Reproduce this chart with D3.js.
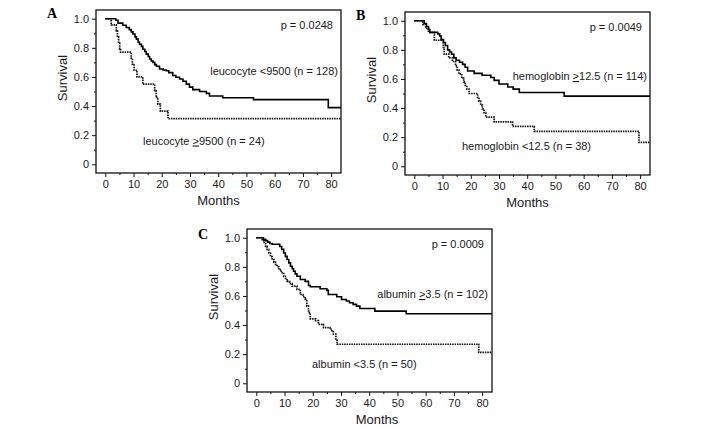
<!DOCTYPE html>
<html><head><meta charset="utf-8">
<script src="https://cdn.jsdelivr.net/npm/d3@7"></script>
<style>
html,body{margin:0;padding:0;background:#fff;}
svg{display:block;}
text{font-family:Arial,"Liberation Sans",sans-serif;fill:#1a1a1a;}
text.letter{font-family:"Times New Roman","Liberation Serif",serif;font-weight:bold;fill:#000;}
</style></head><body>
<svg id="chart" width="708" height="427"></svg>
<script>
// ---------- data ----------
const monthTicks = [0, 10, 20, 30, 40, 50, 60, 70, 80];
const monthMinorTicks = [5, 15, 25, 35, 45, 55, 65, 75];
const survivalTicks = [0, 0.2, 0.4, 0.6, 0.8, 1.0];
const survivalTickLabels = ["0", "0.2", "0.4", "0.6", "0.8", "1.0"];
const survivalMinorTicks = [0.1, 0.3, 0.5, 0.7, 0.9];

// Panel A: leucocyte
const leucoLow = [[0,1],[3.7,0.99],[4.5,0.97],[6.2,0.955],[7.4,0.94],[8.5,0.925],[9.2,0.91],[9.8,0.895],[10.5,0.875],[11,0.86],[11.6,0.84],[12.1,0.825],[12.8,0.81],[13.3,0.79],[14,0.775],[14.5,0.757],[15.2,0.74],[15.7,0.723],[16.3,0.71],[16.9,0.70],[17.5,0.685],[18.1,0.673],[19.2,0.655],[20.5,0.648],[21.6,0.643],[22.5,0.63],[23.9,0.61],[25,0.598],[26.3,0.586],[27.5,0.57],[28.7,0.551],[29.8,0.53],[31,0.513],[33.4,0.50],[35.8,0.487],[36.9,0.469],[41.6,0.457],[52.5,0.444],[79,0.389],[83.5,0.389]];
const leucoHigh = [[0,1],[2.1,0.958],[3.9,0.917],[4.3,0.875],[4.7,0.833],[5.1,0.792],[5.4,0.77],[9.2,0.729],[9.6,0.688],[10.2,0.646],[11.2,0.6],[13.3,0.55],[17.5,0.505],[18,0.459],[18.6,0.413],[19.5,0.365],[22.2,0.313],[83.5,0.313]];

// Panel B: hemoglobin
const hemoHigh = [[0,1],[3.5,0.98],[4.3,0.96],[5,0.94],[5.5,0.92],[8.3,0.91],[9,0.895],[9.5,0.87],[10.3,0.85],[11,0.83],[11.8,0.80],[12.5,0.785],[13.2,0.77],[14,0.745],[14.8,0.728],[16,0.715],[17.1,0.70],[18,0.68],[18.9,0.655],[21.2,0.638],[24,0.625],[27.1,0.61],[28.3,0.59],[30,0.565],[33.1,0.545],[35,0.53],[37.2,0.507],[53.1,0.482],[83.5,0.482]];
const hemoLow = [[0,1],[3,0.974],[4,0.947],[5,0.92],[7.1,0.866],[10.3,0.816],[10.6,0.77],[12.2,0.745],[13.5,0.72],[14.6,0.69],[15.2,0.66],[15.8,0.635],[16.8,0.605],[17.5,0.58],[18,0.555],[18.6,0.53],[19.4,0.50],[22.4,0.474],[22.9,0.447],[23.5,0.42],[24.1,0.395],[24.7,0.368],[25.3,0.338],[28.3,0.305],[34.8,0.274],[42.5,0.24],[79.6,0.164],[83.5,0.164]];

// Panel C: albumin
const albHigh = [[0,1],[2.5,0.99],[3.3,0.98],[4,0.97],[4.8,0.96],[5.6,0.955],[8.3,0.94],[9,0.92],[9.7,0.895],[10.3,0.872],[10.9,0.85],[11.5,0.827],[12.1,0.804],[12.7,0.787],[13.2,0.77],[13.8,0.752],[14.4,0.735],[15.6,0.713],[17.3,0.70],[18.5,0.672],[19.1,0.663],[22.6,0.649],[25,0.638],[25.5,0.61],[28.5,0.594],[30.2,0.576],[31.9,0.565],[33,0.553],[34.3,0.542],[35.5,0.53],[36.7,0.514],[42,0.496],[53.1,0.478],[83.5,0.478]];
const albLow = [[0,1],[2.1,0.98],[2.8,0.96],[3.3,0.94],[3.8,0.92],[4.4,0.895],[5,0.87],[5.6,0.85],[6.2,0.83],[6.8,0.815],[7.4,0.8],[8,0.781],[8.8,0.76],[9.7,0.735],[10.3,0.72],[10.9,0.70],[11.8,0.685],[12.7,0.667],[14.4,0.645],[15.6,0.61],[16.5,0.595],[17.3,0.576],[17.9,0.53],[18.5,0.485],[19.1,0.443],[21,0.43],[22,0.405],[23.8,0.383],[26.1,0.371],[26.8,0.355],[27.3,0.337],[28.2,0.303],[28.6,0.268],[78.8,0.212],[83.5,0.212]];

const panelLetters = ["A", "B", "C"];
const pValues = ["p = 0.0248", "p = 0.0049", "p = 0.0009"];
const upperLabels = [["leucocyte <9500 (n = 128)"], ["hemoglobin ", "\u003e", "12.5 (n = 114)"], ["albumin ", "\u003e", "3.5 (n = 102)"]];
const lowerLabels = [["leucocyte ", "\u003e", "9500 (n = 24)"], ["hemoglobin <12.5 (n = 38)"], ["albumin <3.5 (n = 50)"]];
const upperSeries = [leucoLow, hemoHigh, albHigh];
const lowerSeries = [leucoHigh, hemoLow, albLow];

// ---------- layout ----------
const W = 245, H = 163;
const panels = [
  {x: 96, y: 10, upperDx: -3, upperY: 64.5, lowerX: 47, lowerY: 134.5, monthsX: 122.5},
  {x: 405, y: 12, upperDx: -3, upperY: 68, lowerX: 57, lowerY: 138, monthsX: 122.5},
  {x: 247, y: 229, upperDx: -4, upperY: 69, lowerX: 65, lowerY: 139, monthsX: 130}
];

const svg = d3.select("#chart");
const x = d3.scaleLinear().domain([-3.3, 83.5]).range([0, W]);
const y = d3.scaleLinear().domain([-0.06, 1.06]).range([H, 0]);
const line = d3.line().x(d => x(d[0])).y(d => y(d[1])).curve(d3.curveStepAfter);

panels.forEach((p, i) => {
  const g = svg.append("g").attr("transform", `translate(${p.x},${p.y})`);

  // frame
  g.append("rect").attr("x", 0).attr("y", 0).attr("width", W).attr("height", H)
    .attr("fill", "none").attr("stroke", "#111").attr("stroke-width", 1.3);

  // y axis
  const yAxis = d3.axisLeft(y).tickValues(survivalTicks)
    .tickFormat((d, k) => survivalTickLabels[k]).tickSize(4).tickPadding(3);
  const ya = g.append("g").call(yAxis);
  ya.select(".domain").remove();
  ya.selectAll("text").attr("font-size", 11);
  ya.selectAll("line").attr("stroke", "#111");
  const yMinor = d3.axisLeft(y).tickValues(survivalMinorTicks).tickFormat("").tickSize(2);
  const ym = g.append("g").call(yMinor);
  ym.select(".domain").remove();
  ym.selectAll("line").attr("stroke", "#111");

  // x axis
  const xAxis = d3.axisBottom(x).tickValues(monthTicks).tickSize(4).tickPadding(3);
  const xa = g.append("g").attr("transform", `translate(0,${H})`).call(xAxis);
  xa.select(".domain").remove();
  xa.selectAll("text").attr("font-size", 11);
  xa.selectAll("line").attr("stroke", "#111");
  const xMinor = d3.axisBottom(x).tickValues(monthMinorTicks).tickFormat("").tickSize(2);
  const xm = g.append("g").attr("transform", `translate(0,${H})`).call(xMinor);
  xm.select(".domain").remove();
  xm.selectAll("line").attr("stroke", "#111");

  // curves
  g.append("path").datum(lowerSeries[i]).attr("d", line).attr("fill", "none")
    .attr("stroke", "#111").attr("stroke-width", 1.7).attr("stroke-dasharray", "1.5,0.9");
  g.append("path").datum(upperSeries[i]).attr("d", line).attr("fill", "none")
    .attr("stroke", "#000").attr("stroke-width", 1.6);

  // texts
  g.append("text").attr("x", W - 8).attr("y", 19).attr("text-anchor", "end")
    .attr("font-size", 11).text(pValues[i]);

  const addLabel = (parts, tx, ty, anchor) => {
    const t = g.append("text").attr("x", tx).attr("y", ty).attr("text-anchor", anchor).attr("font-size", 11);
    parts.forEach(s => {
      const ts = t.append("tspan").text(s);
      if (s === "\u003e") ts.style("text-decoration", "underline");
    });
  };
  addLabel(upperLabels[i], W + p.upperDx, p.upperY, "end");
  addLabel(lowerLabels[i], p.lowerX, p.lowerY, "start");

  // axis titles
  g.append("text").attr("transform", `translate(-29,68) rotate(-90)`)
    .attr("text-anchor", "middle").attr("font-size", 13).text("Survival");
  g.append("text").attr("x", p.monthsX).attr("y", H + 32).attr("text-anchor", "middle")
    .attr("font-size", 13).text("Months");

  // panel letter
  svg.append("text").attr("class", "letter").attr("x", p.x - 49).attr("y", p.y + (i === 2 ? 10 : 8))
    .attr("font-size", 14).text(panelLetters[i]);
});
</script>
</body></html>
